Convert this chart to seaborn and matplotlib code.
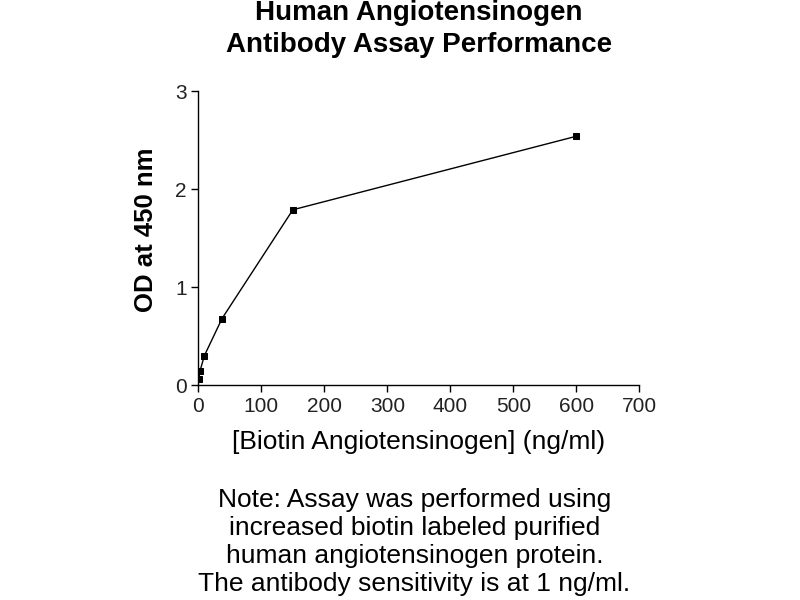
import pandas as pd
import matplotlib
matplotlib.use("Agg")
import matplotlib.pyplot as plt
import seaborn as sns

# biotin angiotensinogen concentration (ng/ml) and OD at 450 nm
conc = [0.59, 2.34, 9.38, 37.5, 150, 600]
od = [0.06, 0.14, 0.30, 0.68, 1.79, 2.54]
xticks = [0, 100, 200, 300, 400, 500, 600, 700]
yticks = [0, 1, 2, 3]

title_lines = ["Human Angiotensinogen", "Antibody Assay Performance"]
note_lines = ["Note: Assay was performed using",
              "increased biotin labeled purified",
              "human angiotensinogen protein.",
              "The antibody sensitivity is at 1 ng/ml."]

sns.set_style("ticks")
plt.rcParams['font.family'] = ['Liberation Sans', 'DejaVu Sans']
plt.rcParams['text.color'] = 'black'
plt.rcParams['axes.labelcolor'] = 'black'

dfx = pd.DataFrame({"conc": conc, "od": od})

fig = plt.figure(figsize=(8, 6), dpi=100)
ax = fig.add_axes([0.248, 0.358, 0.551, 0.49])
sns.lineplot(data=dfx, x="conc", y="od", ax=ax, color="black", linewidth=1,
             marker="s", markersize=5, markeredgecolor="black", markerfacecolor="black")

ax.set_xlim(0, 700)
ax.set_ylim(0, 3)
ax.set_xticks(xticks)
ax.set_yticks(yticks)
ax.tick_params(axis='both', labelsize=15, length=5, width=1, colors='black', labelcolor='#222222')
for s in ["top", "right"]:
    ax.spines[s].set_visible(False)
for s in ["left", "bottom"]:
    ax.spines[s].set_color("black")
    ax.spines[s].set_linewidth(1)

ax.set_xlabel("[Biotin Angiotensinogen] (ng/ml)", fontsize=19, labelpad=10)
ax.set_ylabel("OD at 450 nm", fontsize=18.5, fontweight="bold")
ax.yaxis.set_label_coords(-0.092, 0.53)

fig.text(0.524, 0.978, title_lines[0], ha="center", va="center", fontsize=20, fontweight="bold")
fig.text(0.524, 0.925, title_lines[1], ha="center", va="center", fontsize=20, fontweight="bold")

for i, line in enumerate(note_lines):
    fig.text(0.518, 0.167 - i * 0.0467, line, ha="center", va="center", fontsize=19)

fig.savefig("out.png", dpi=100)
